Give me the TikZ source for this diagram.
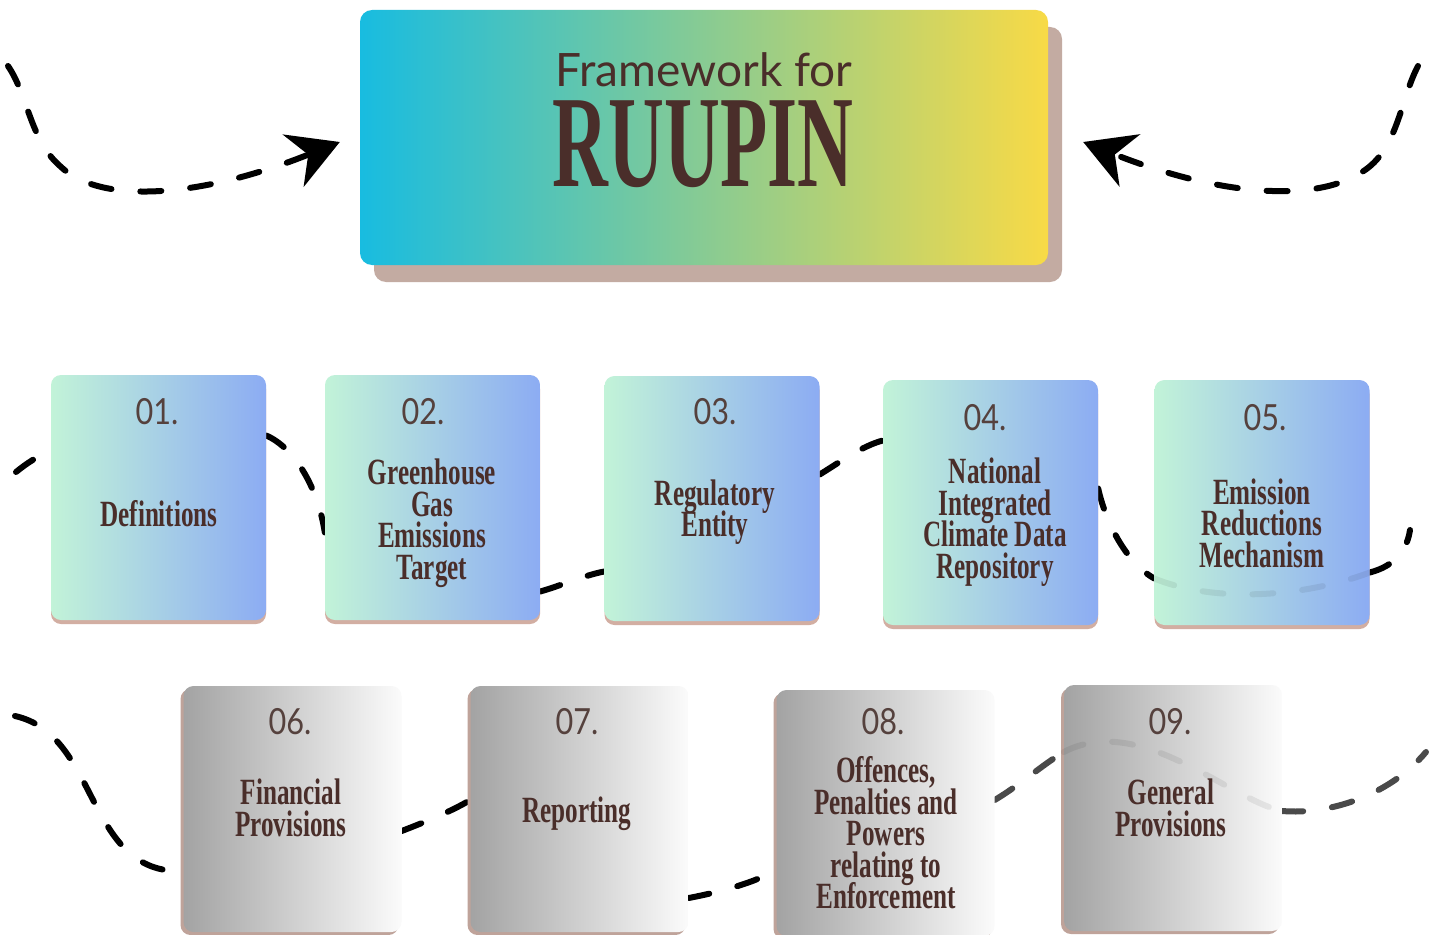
\documentclass[tikz,border=0pt]{standalone}
\usepackage{graphicx}
\usepackage{fontspec}
\setmainfont{Liberation Serif}
\newfontfamily\numfont{Lato}
\usetikzlibrary{arrows.meta,calc}
\pgfdeclarelayer{background}
\pgfsetlayers{background,main}
\definecolor{txtbrown}{HTML}{4A2E2A}
\definecolor{numbrown}{HTML}{55413D}
\definecolor{cyanL}{HTML}{18BCE0}
\definecolor{greenM}{HTML}{7CD0A2}
\definecolor{yellowR}{HTML}{F8DA46}
\definecolor{tshadow}{HTML}{C3ABA2}
\definecolor{mintL}{HTML}{C2F3D8}
\definecolor{periR}{HTML}{8CACF3}
\definecolor{bshadow}{HTML}{D2AEA2}
\definecolor{grayL}{HTML}{A3A3A3}
\definecolor{grayR}{HTML}{FBFBFB}
\definecolor{gshadow}{HTML}{BFA39A}
\definecolor{conngray}{HTML}{4A4A4A}
\newcommand{\bxt}[1]{\scalebox{0.68}[1]{\vbox{\baselineskip=31.5pt\lineskiplimit=-100pt\lineskip=0pt\let\\\cr\halign{\hfil##\hfil\cr#1\crcr}}}}
\newcommand{\numt}[1]{\scalebox{0.85}[1]{#1}}
\begin{document}
\begin{tikzpicture}[x=1pt,y=-1pt,
  titlebox/.style={rounded corners=12pt, minimum width=688pt, minimum height=255pt, inner sep=0pt,
    left color=cyanL, middle color=greenM, right color=yellowR,
    preaction={fill=tshadow, transform canvas={xshift=14pt,yshift=-17pt}}},
  bluebox/.style={rounded corners=10pt, minimum width=215pt, minimum height=245pt, inner sep=0pt,
    left color=mintL, right color=periR,
    preaction={fill=bshadow, transform canvas={yshift=-4pt}}},
  graybox/.style={rounded corners=10pt, minimum width=218pt, minimum height=246pt, inner sep=0pt,
    left color=grayL, right color=grayR,
    preaction={fill=gshadow, transform canvas={xshift=-3pt,yshift=-3pt}}},
  num/.style={inner sep=0pt, text=numbrown, font=\numfont\fontsize{36}{36}\selectfont},
  lbl/.style={inner sep=0pt, text=txtbrown, font=\bfseries\fontsize{37}{31.5}\selectfont},
  conn/.style={line width=6pt, dash pattern=on 21pt off 29pt, line cap=round, draw=black},
  conng/.style={conn, draw=conngray},
  ghost/.style={conn, draw opacity=0.07},
  bigarrow/.style={-{Stealth[length=50pt,width=56pt,inset=16pt]}}
]
\useasboundingbox (0,0) rectangle (1429,934);

% title
\node[titlebox] (title) at (704,137.5) {};
\node[inner sep=0pt, text=txtbrown, font=\numfont\fontsize{46}{46}\selectfont] (fw) at (704,70) {Framework for};
\node[inner sep=0pt, text=txtbrown, font=\bfseries\fontsize{131}{131}\selectfont] (ru) at (703,144) {\scalebox{0.59}[1]{RUUPIN}};

% row 1 boxes
\node[bluebox] (b1) at (158.5,497.5) {};
\node[bluebox] (b2) at (432.5,497.5) {};
\node[bluebox] (b3) at (712,498.5) {};
\node[bluebox] (b4) at (990.5,502.5) {};
\node[bluebox] (b5) at (1262,502.5) {};

% row 2 boxes
\node[graybox] (b6) at (292.5,809) {};
\node[graybox] (b7) at (579.5,809) {};
\node[graybox] (b8) at (885.5,813) {};
\node[graybox] (b9) at (1173,808) {};

% ghost curves seen through boxes
\draw[ghost] ($(b5.west)+(0,76)$) .. controls (1220,605) and (1310,595) .. ($(b5.east)+(0,70)$);
\draw[ghost] ($(b9.west)+(0,-56)$) .. controls (1140,712) and (1230,800) .. ($(b9.east)+(0,3)$);

% numbers
\node[num] (n1) at (157,412) {\numt{01.}};
\node[num] (n2) at (423,412) {\numt{02.}};
\node[num] (n3) at (715,412) {\numt{03.}};
\node[num] (n4) at (985,418) {\numt{04.}};
\node[num] (n5) at (1265,418) {\numt{05.}};
\node[num] (n6) at (290,722) {\numt{06.}};
\node[num] (n7) at (577,722) {\numt{07.}};
\node[num] (n8) at (883,722) {\numt{08.}};
\node[num] (n9) at (1170,722) {\numt{09.}};

% labels
\node[lbl] (t1) at (159,514) {\bxt{Definitions}};
\node[lbl] (t2) at (432,523) {\bxt{Greenhouse\\Gas\\Emissions\\Target}};
\node[lbl] (t3) at (715,512) {\bxt{Regulatory\\Entity}};
\node[lbl] (t4) at (995,522) {\bxt{National\\Integrated\\Climate Data\\Repository}};
\node[lbl] (t5) at (1262,523) {\bxt{Emission\\Reductions\\Mechanism}};
\node[lbl] (t6) at (291,808) {\bxt{Financial\\Provisions}};
\node[lbl] (t7) at (577,814) {\bxt{Reporting}};
\node[lbl] (t8) at (886,833) {\bxt{Offences,\\Penalties and\\Powers\\relating to\\Enforcement}};
\node[lbl] (t9) at (1171,808) {\bxt{General\\Provisions}};

\begin{pgfonlayer}{background}
\fill[white] (0,0) rectangle (1429,934);
\coordinate (tl) at (8,66);
\coordinate (tr) at (1418,66);
\coordinate (r1s) at (16,472);
\coordinate (r1e) at (1410,530);
\coordinate (r2s) at (15,716);
\coordinate (r2e) at (1426,752);
% top arrows
\draw[conn,bigarrow] (tl) .. controls (28,95) and (30,140) .. (60,166)
   .. controls (100,205) and (200,198) .. ($(title.west)+(-20,4.5)$);
\draw[conn,bigarrow] (tr) .. controls (1400,100) and (1398,150) .. (1362,172)
   .. controls (1320,200) and (1230,200) .. ($(title.east)+(35,4.5)$);
% row 1 connectors
\draw[conn] (r1s) .. controls (27,463) and (38,456) .. ($(b1.west)+(0,-47)$);
\draw[conn] ($(b1.east)+(0,-62)$) .. controls (295,448) and (318,488) .. ($(b2.west)+(0,35)$);
\draw[conn] ($(b2.east)+(0,94)$) .. controls (560,586) and (585,575) .. ($(b3.west)+(0,73)$);
\draw[conn] ($(b3.east)+(0,-24)$) .. controls (840,462) and (862,446) .. ($(b4.west)+(0,-62)$);
\draw[conn] ($(b4.east)+(0,-14)$) .. controls (1105,520) and (1125,562) .. ($(b5.west)+(0,76)$);
\draw[conn] ($(b5.east)+(0,70)$) .. controls (1395,566) and (1407,550) .. (r1e);
% row 2 connectors
\draw[conn] (r2s) .. controls (100,735) and (85,875) .. ($(b6.west)+(0,62)$);
\draw[conn] ($(b6.east)+(0,22)$) .. controls (425,822) and (450,812) .. ($(b7.west)+(0,-9)$);
\draw[conn] ($(b7.east)+(0,89)$) .. controls (715,893) and (752,884) .. ($(b8.west)+(0,57)$);
\draw[conng] ($(b8.east)+(0,-13)$) .. controls (1020,785) and (1042,765) .. ($(b9.west)+(0,-56)$);
\draw[conng] ($(b9.east)+(0,3)$) .. controls (1330,815) and (1390,795) .. (r2e);
\end{pgfonlayer}
\end{tikzpicture}
\end{document}
